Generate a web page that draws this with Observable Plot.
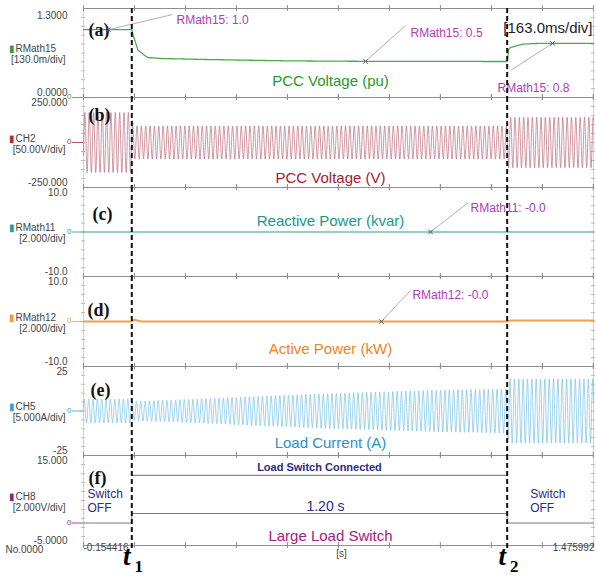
<!DOCTYPE html>
<html><head><meta charset="utf-8">
<script src="https://cdn.jsdelivr.net/npm/d3@7"></script>
<script src="https://cdn.jsdelivr.net/npm/@observablehq/plot@0.6"></script>
<style>
body{margin:0;background:#fff;font-family:Arial,"Liberation Sans",sans-serif}
#chart{position:relative;width:596px;height:577px;overflow:hidden;background:#fff}
#chart svg{position:absolute;left:0}
</style>
</head><body><div id="chart"></div>
<script>
// ---------- data ----------
const xStart = -0.154416, xEnd = 1.475992;
const secPerDiv = 0.163;
const t1 = 0, t2 = 1.20;
const xStartLabel = "-0.154416", xEndLabel = "1.475992", timeDivLabel = "[163.0ms/div]";

const channels = ["RMath15","CH2","RMath11","RMath12","CH5","CH8"];
const scaleLabels = ["[130.0m/div]","[50.00V/div]","[2.000/div]","[2.000/div]","[5.000A/div]","[2.000V/div]"];
const perDiv = [0.13, 50, 2, 2, 5, 2];
const yMaxs = [1.3, 250, 10, 10, 25, 15];
const yMins = [0, -250, -10, -10, -25, -5];
const maxLabels = ["1.3000","250.000","10.0","10.0","25","15.000"];
const minLabels = ["0.0000","-250.000","-10.0","-10.0","-25","-5.0000"];
const titles = ["PCC Voltage (pu)","PCC Voltage (V)","Reactive Power (kvar)","Active Power (kW)","Load Current (A)","Large Load Switch"];
const letters = ["(a)","(b)","(c)","(d)","(e)","(f)"];

// PCC voltage (pu): [time s, value]
const pccPu = [[xStart,0.99],[0,0.99],[0.005,0.9],[0.02,0.69],[0.05,0.585],[0.09,0.57],[0.24,0.555],[0.5,0.535],[0.8,0.527],[1.2,0.526],[1.205,0.70],[1.21,0.73],[1.25,0.78],[1.3,0.79],[xEnd,0.79]];
// PCC voltage (V): amplitude envelope [time, peak V]
const pccVPeak = [[xStart,167],[0,167],[0.004,92],[1.2,92],[1.204,140],[xEnd,140]];
// Load current (A): amplitude envelope [time, peak A]
const loadIPeak = [[xStart,6.7],[0,6.7],[0.004,5.4],[0.15,6.3],[0.4,8.2],[0.6,9.6],[0.8,10.8],[1.0,11.8],[1.2,12.4],[1.204,18],[xEnd,18]];
const waveHz = 72;   // apparent (sampled) frequency on screen
// Reactive / active power
const reactiveQ = [[xStart,0],[xEnd,0]];
const activeP = [[xStart,0],[0,0],[0.008,0.4],[0.03,0],[1.2,0],[1.21,0.2],[xEnd,0.2]];
// Load switch
const switchSig = [[xStart,0],[0,0],[0,2.1],[1.2,2.1],[1.2,0],[xEnd,0]];
const connectedLevel = 10.6;
const gapLabel = "1.20 s";
const offLabel = "Switch\nOFF";

// cursor readouts: [time, value]
const cursors = [
  {panel:0, t:-0.0745, v:0.99, text:"RMath15: 1.0"},
  {panel:0, t:0.747, v:0.527, text:"RMath15: 0.5"},
  {panel:0, t:1.345, v:0.79, text:"RMath15: 0.8"},
  {panel:2, t:0.955, v:0, text:"RMath11: -0.0"},
  {panel:3, t:0.798, v:0, text:"RMath12: -0.0"}
];

// ---------- build waveforms ----------
function wave(peaks, hz, phase) {
  const amp = d3.scaleLinear().domain(peaks.map(d => d[0])).range(peaks.map(d => d[1]));
  return d3.range(xStart, xEnd, 0.0004).map(t => [t, amp(t) * Math.sin(2 * Math.PI * hz * t + phase)]);
}
const pccV = wave(pccVPeak, waveHz, 0.3);
const loadI = wave(loadIPeak, waveHz, 1.1);

// ---------- layout & style ----------
const tops = [8, 97, 187, 276, 366, 455];
const heights = [89, 90, 89, 90, 89, 90];
const traceColors = ["#4aab4a","#b5606f","#2a9d8a","#f2a04a","#6bbde2","#a08aa8"];
const markColors = ["#3a9a3a","#b0303a","#2a9d8a","#f09a3e","#3aa0dc","#8a2a7a"];
const titleColors = ["#1e9a1e","#a3202d","#16998a","#f08422","#2a8fd0","#a3207f"];
const letterPos = [[5,15],[5,11],[9,20],[4,27],[7,17],[5,16]];
const titleDy = [67,75,28,67,71,75];
const annColor = "#b13cb5";
const FONT = "Arial, 'Liberation Sans', sans-serif";
const SERIF = "'Liberation Serif','DejaVu Serif',serif";
const divTimes = d3.range(0, 11).map(k => xStart + k * secPerDiv);

// label anchors in data coordinates for cursor leaders
const leaders = [
  {lt:0.130, lv:1.212, tx:0.143, tv:1.125, dash:"3,2"},
  {lt:0.875, lv:1.052, tx:0.891, tv:0.935},
  {lt:1.2107, lv:0.394, tx:1.169, tv:0.131},
  {lt:1.076, lv:6.63, tx:1.083, tv:5.3},
  {lt:0.891, lv:6.9, tx:0.897, tv:5.8}
];

const traces = [
  [Plot.line(pccPu, {x: d => d[0], y: d => d[1], stroke: traceColors[0], strokeWidth: 1.3, strokeDasharray: "2,0.6"})],
  [Plot.line(pccV, {x: d => d[0], y: d => d[1], stroke: traceColors[1], strokeWidth: 0.65})],
  [Plot.line(reactiveQ, {x: d => d[0], y: d => d[1], stroke: traceColors[2], strokeWidth: 1.2})],
  [Plot.line(activeP, {x: d => d[0], y: d => d[1], stroke: traceColors[3], strokeWidth: 2})],
  [Plot.line(loadI, {x: d => d[0], y: d => d[1], stroke: traceColors[4], strokeWidth: 0.65})],
  [
    Plot.line(switchSig, {x: d => d[0], y: d => d[1], stroke: "#7a7a7a", strokeWidth: 1}),
    Plot.ruleY([connectedLevel], {x1: t1, x2: t2, stroke: "#6a6a6a"}),
    Plot.text(["Load Switch Connected"], {x: (t1 + t2) / 2, y: connectedLevel, dy: -8, fontSize: 11, fontWeight: "bold", fill: "#2b2b80"}),
    Plot.text([gapLabel], {x: (t1 + t2) / 2, y: switchSig[2][1], dx: 6, dy: -7, fontSize: 14, fill: "#2b2b85"}),
    Plot.text([offLabel], {frameAnchor: "top-left", dx: 4, dy: 33, lineAnchor: "top", lineHeight: 1.15, textAnchor: "start", fontSize: 12, fill: "#2b2b85"}),
    Plot.text([t2], {x: d => d, text: () => offLabel, frameAnchor: "top", dx: 23, dy: 33, lineAnchor: "top", lineHeight: 1.15, textAnchor: "start", fontSize: 12, fill: "#2b2b85"})
  ]
];

const chart = document.getElementById("chart");

for (let i = 0; i < 6; i++) {
  const mt = i === 0 ? 8 : 0, mb = i === 5 ? 32 : 0;
  const yDivs = d3.range(1, 10).map(k => yMins[i] + k * perDiv[i]);
  const mid = (yMins[i] + yMaxs[i]) / 2;
  const myCursors = cursors.map((c, k) => ({...c, ...leaders[k]})).filter(c => c.panel === i);
  const marks = [
    Plot.ruleX([xStart, xEnd], {stroke: "#d2d2d2"}),
    Plot.ruleY(yDivs, {x1: xStart, x2: xStart, insetLeft: -2, insetRight: -2, stroke: "#bdbdbd"}),
    Plot.ruleY(yDivs, {x1: xEnd, x2: xEnd, insetLeft: -2, insetRight: -2, stroke: "#bdbdbd"}),
    Plot.ruleY([yMins[i], yMaxs[i]], {stroke: "#8e8e8e"}),
    Plot.ruleX(divTimes, {y1: yMaxs[i], y2: yMaxs[i], insetTop: -3, insetBottom: -3, stroke: "#8e8e8e"}),
    Plot.ruleX(divTimes, {y1: yMins[i], y2: yMins[i], insetTop: -3, insetBottom: -3, stroke: "#8e8e8e"}),
    // left margin labels
    Plot.text([{v: yMaxs[i], s: maxLabels[i]}], {y: "v", text: "s", frameAnchor: "left", dx: -16, dy: i === 0 ? 7 : 5, textAnchor: "end", fill: "#444", fontSize: 10}),
    Plot.text([{v: yMins[i], s: minLabels[i]}], {y: "v", text: "s", frameAnchor: "left", dx: -16, dy: -5, textAnchor: "end", fill: "#444", fontSize: 10}),
    Plot.text(["\u25AE"], {y: () => mid, frameAnchor: "left", dx: -75, dy: -4, textAnchor: "start", fill: markColors[i], fontSize: 10}),
    Plot.text([channels[i]], {y: () => mid, frameAnchor: "left", dx: -68, dy: -4, textAnchor: "start", fill: "#444", fontSize: 10}),
    Plot.text([scaleLabels[i]], {y: () => mid, frameAnchor: "left", dx: -18, dy: 7, textAnchor: "end", fill: "#444", fontSize: 10}),
    Plot.ruleY([0], {x1: xStart, x2: xStart, insetLeft: -11, stroke: markColors[i], strokeWidth: 0.8}),
    Plot.text(["0"], {y: () => 0, frameAnchor: "left", dx: -12, dy: -1, textAnchor: "end", fill: markColors[i], fontSize: 8}),
    // traces
    ...traces[i],
    // panel letter and title
    Plot.text([letters[i]], {frameAnchor: "top-left", dx: letterPos[i][0], dy: letterPos[i][1], textAnchor: "start", fontFamily: SERIF, fontWeight: "bold", fontSize: 18, fill: "#111"}),
    Plot.text([titles[i]], {frameAnchor: "top", dx: -8, dy: titleDy[i], fontSize: 15, fill: titleColors[i]}),
    // cursor readouts
    Plot.link(myCursors, {x1: "t", y1: "v", x2: "lt", y2: "lv", stroke: "#9a9a9a", strokeWidth: 0.8, strokeDasharray: d => d.dash || null}),
    Plot.dot(myCursors, {x: "t", y: "v", symbol: "times", r: 2.2, stroke: "#555", strokeWidth: 1}),
    Plot.text(myCursors, {x: "tx", y: "tv", text: "text", textAnchor: "start", fontSize: 12, fill: annColor})
  ];
  if (i === 0) {
    marks.push(Plot.text([timeDivLabel], {frameAnchor: "top-right", dx: -1, dy: 14, textAnchor: "end", fontSize: 15, fill: "#222"}));
  }
  if (i === 5) {
    marks.push(
      Plot.text(["No.0000"], {frameAnchor: "bottom-left", dx: -78, dy: 7, textAnchor: "start", fontSize: 10, fill: "#444"}),
      Plot.text([xStartLabel], {frameAnchor: "bottom-left", dx: 0, dy: 5, textAnchor: "start", fontSize: 10, fill: "#444"}),
      Plot.text(["[s]"], {frameAnchor: "bottom", dx: 3, dy: 11, fontSize: 10, fill: "#444"}),
      Plot.text([xEndLabel], {frameAnchor: "bottom-right", dx: 1, dy: 5, textAnchor: "end", fontSize: 10, fill: "#444"}),
      Plot.text([t1, t2], {x: d => d, frameAnchor: "bottom", dx: -5, dy: 19, text: () => "t", fontFamily: SERIF, fontStyle: "italic", fontWeight: "bold", fontSize: 27, fill: "#000"}),
      Plot.text([t1, t2], {x: d => d, frameAnchor: "bottom", dx: 7, dy: 26, text: (d, k) => String(k + 1), fontFamily: SERIF, fontWeight: "bold", fontSize: 17, fill: "#000"})
    );
  }
  marks.push(Plot.ruleX([t1, t2], {stroke: "#111", strokeWidth: 2, strokeDasharray: "5,3", insetBottom: i === 5 ? -4 : 0}));

  const svg = Plot.plot({
    width: 596, height: heights[i] + mt + mb,
    marginLeft: 83, marginRight: 3, marginTop: mt, marginBottom: mb,
    x: {domain: [xStart, xEnd], axis: null},
    y: {domain: [yMins[i], yMaxs[i]], axis: null},
    style: {background: "transparent", overflow: "visible", fontFamily: FONT, fontSize: "10px", color: "#333"},
    marks
  });
  svg.style.position = "absolute";
  svg.style.top = (tops[i] - mt) + "px";
  svg.style.left = "0px";
  chart.appendChild(svg);
}
</script>
</body></html>
